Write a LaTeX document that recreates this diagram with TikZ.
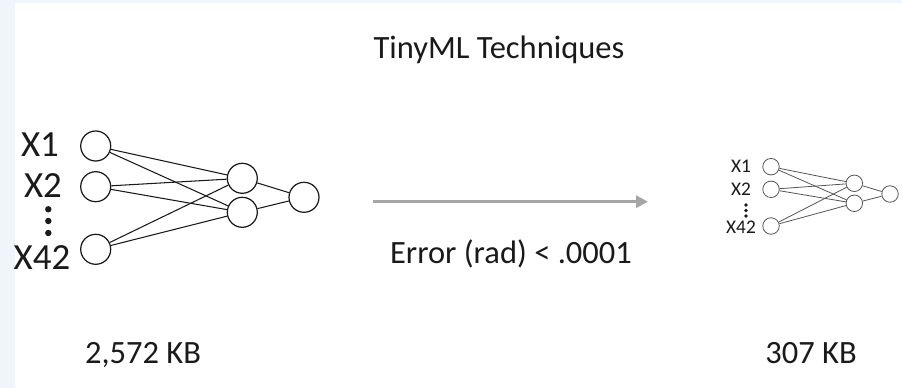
\documentclass[tikz,border=0pt]{standalone}
\usepackage{fontspec}
\setmainfont{Carlito}
\usepackage{tikz}
\usetikzlibrary{arrows.meta}
\definecolor{TMLBlue}{HTML}{EEF5FD}
\definecolor{TMLGray}{HTML}{A6A6A6}
\definecolor{TMLInk}{HTML}{1A1A1A}

\begin{document}
\begin{tikzpicture}[x=0.02cm,y=-0.02cm,
    bigneuron/.style={circle,draw=TMLInk,line width=0.7pt,minimum size=0.6cm,inner sep=0pt},
    smallneuron/.style={circle,draw=TMLInk!75,line width=0.45pt,minimum size=0.33cm,inner sep=0pt},
    txt/.style={anchor=base,inner sep=0pt,text=TMLInk,font=\fontsize{18.5}{20}\selectfont},
    biglabel/.style={anchor=base,inner sep=0pt,text=TMLInk,font=\fontsize{21}{23}\selectfont},
    smalllabel/.style={anchor=base,inner sep=0pt,text=TMLInk,font=\fontsize{11}{12}\selectfont}]
  \fill[TMLBlue] (0,0) rectangle (902,388);
  \fill[white] (15,3) rectangle (902,388);
  \useasboundingbox (0,0) rectangle (902,388);

  \node[txt] (title) at (499,59) {TinyML Techniques};

  % big network
  \node[bigneuron] (li1) at (95.7,146) {};
  \node[bigneuron] (li2) at (95.7,186.7) {};
  \node[bigneuron] (li3) at (95.7,249.3) {};
  \node[bigneuron] (lh1) at (242.3,178.3) {};
  \node[bigneuron] (lh2) at (242.3,212.3) {};
  \node[bigneuron] (lo) at (304,197.3) {};
  \foreach \i in {1,2,3}
    \foreach \j in {1,2}
      \draw[TMLInk,line width=0.6pt] (li\i) -- (lh\j);
  \draw[TMLInk,line width=0.6pt] (lh1) -- (lo);
  \draw[TMLInk,line width=0.6pt] (lh2) -- (lo);
  \node[biglabel] (lx1) at (40,156.7) {X1};
  \node[biglabel] (lx2) at (43,197.3) {X2};
  \node[biglabel] (lx42) at (42,269.3) {X42};
  \foreach \y in {209.3,221,233}
    \fill[TMLInk] (48.3,\y) circle (3.2);

  % arrow
  \coordinate (arrS) at (373,201.7);
  \coordinate (arrE) at (648,201.7);
  \draw[TMLGray,line width=1.8pt,-{Triangle[length=0.24cm,width=0.24cm]}] (arrS) -- (arrE);
  \node[txt] (err) at (511,263) {Error (rad) < .0001};

  % small network
  \node[smallneuron] (ri1) at (771,166.7) {};
  \node[smallneuron] (ri2) at (771,189.3) {};
  \node[smallneuron] (ri3) at (771,226) {};
  \node[smallneuron] (rh1) at (854.3,183.3) {};
  \node[smallneuron] (rh2) at (854.3,203.3) {};
  \node[smallneuron] (ro) at (890,194) {};
  \foreach \i in {1,2,3}
    \foreach \j in {1,2}
      \draw[TMLInk!75,line width=0.45pt] (ri\i) -- (rh\j);
  \draw[TMLInk!75,line width=0.45pt] (rh1) -- (ro);
  \draw[TMLInk!75,line width=0.45pt] (rh2) -- (ro);
  \node[smalllabel] (rx1) at (741,172.7) {X1};
  \node[smalllabel] (rx2) at (741,195) {X2};
  \node[smalllabel] (rx42) at (741,234) {X42};
  \foreach \y in {205,210.5,216}
    \fill[TMLInk] (746,\y) circle (1.8);

  \node[txt] (sizeA) at (143,363) {2,572 KB};
  \node[txt] (sizeB) at (811,363) {307 KB};
\end{tikzpicture}
\end{document}
